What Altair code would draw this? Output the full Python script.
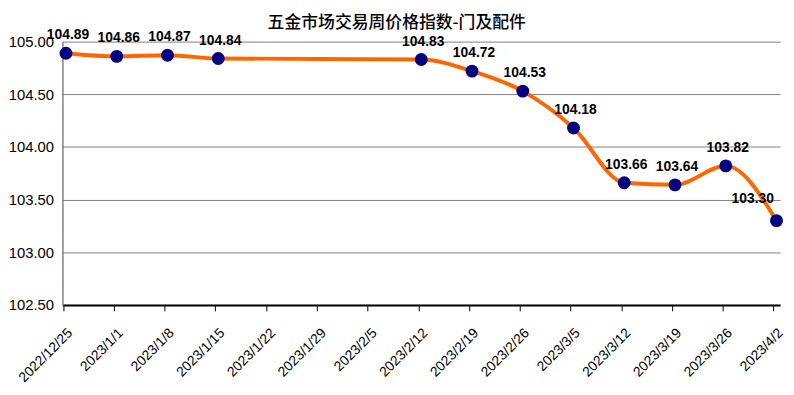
import altair as alt
import pandas as pd

all_dates = ["2022/12/25", "2023/1/1", "2023/1/8", "2023/1/15", "2023/1/22", "2023/1/29",
             "2023/2/5", "2023/2/12", "2023/2/19", "2023/2/26", "2023/3/5", "2023/3/12",
             "2023/3/19", "2023/3/26", "2023/4/2"]
dates = ["2022/12/25", "2023/1/1", "2023/1/8", "2023/1/15", "2023/2/12", "2023/2/19",
         "2023/2/26", "2023/3/5", "2023/3/12", "2023/3/19", "2023/3/26", "2023/4/2"]
values = [104.89, 104.86, 104.87, 104.84, 104.83, 104.72, 104.53, 104.18,
          103.66, 103.64, 103.82, 103.30]

df = pd.DataFrame({"date": dates, "value": values})
df["label"] = df["value"].map(lambda v: f"{v:.2f}")

x = alt.X("date:O", sort=all_dates,
          scale=alt.Scale(domain=all_dates, type="point", padding=0.07),
          axis=alt.Axis(title=None, labelAngle=-45, labelAlign="right", labelBaseline="top",
                        labelFont="Liberation Sans", labelFontSize=14, labelColor="#000000",
                        labelPadding=15, labelOffset=2, tickColor="#000000", tickSize=6,
                        tickOffset=-3, domainColor="#000000", domainWidth=2, grid=False))
y = alt.Y("value:Q",
          scale=alt.Scale(domain=[102.5, 105.0], nice=False, zero=False),
          axis=alt.Axis(title=None, values=[102.5, 103.0, 103.5, 104.0, 104.5, 105.0],
                        format=".2f", labelFont="Liberation Sans", labelFontSize=15,
                        labelColor="#000000", ticks=False, labelPadding=9,
                        domainColor="#808080", domainWidth=1.5,
                        grid=True, gridColor="#808080", gridWidth=1))

base = alt.Chart(df)
line = base.mark_line(color="#FF6600", strokeWidth=4, interpolate="monotone").encode(x=x, y=y)
pts = base.mark_circle(color="#000080", opacity=1, size=170).encode(x=x, y=y)
txt = base.transform_filter(alt.datum.date != "2023/4/2").mark_text(
    font="Liberation Sans", fontSize=14, fontWeight="bold", color="#000000", dy=-18, dx=2
).encode(x=x, y=y, text="label:N")
txt_last = base.transform_filter(alt.datum.date == "2023/4/2").mark_text(
    font="Liberation Sans", fontSize=14, fontWeight="bold", color="#000000", dy=-22, dx=-24
).encode(x=x, y=y, text="label:N")

chart = alt.layer(line, pts, txt, txt_last).properties(
    width=725, height=266,
    title=alt.TitleParams("五金市场交易周价格指数-门及配件", font="Noto Sans CJK SC",
                          fontSize=17, fontWeight=500, color="#000000",
                          anchor="middle", frame="bounds", offset=-4),
    autosize=alt.AutoSizeParams(type="none"),
    padding={"left": 55, "top": 32, "right": 6, "bottom": 82},
).configure_view(stroke=None)

chart.save("out.html", embed_options={"renderer": "svg", "actions": False})
